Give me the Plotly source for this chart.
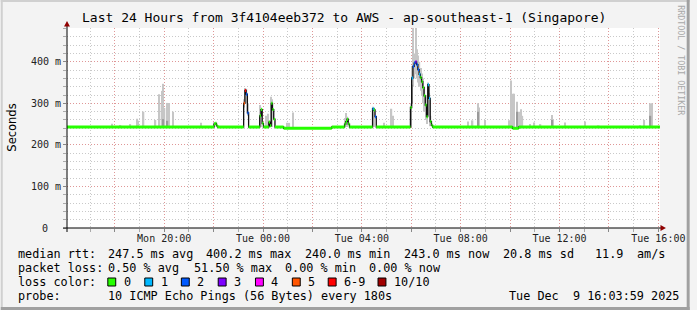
import plotly.graph_objects as go
from datetime import datetime, timedelta

# ---------------- data ----------------
# median RTT samples: time, value (ms), lost pings (of 10)
med_time = [
    "2025-12-08 16:04", "2025-12-08 22:01", "2025-12-08 22:04", "2025-12-08 22:07", "2025-12-08 22:10",
    "2025-12-08 23:13", "2025-12-08 23:16", "2025-12-08 23:19", "2025-12-08 23:22", "2025-12-08 23:25",
    "2025-12-08 23:52", "2025-12-08 23:55", "2025-12-08 23:58", "2025-12-09 00:01",
    "2025-12-09 00:14", "2025-12-09 00:17", "2025-12-09 00:20", "2025-12-09 00:23", "2025-12-09 00:26",
    "2025-12-09 00:29", "2025-12-09 00:50", "2025-12-09 02:47",
    "2025-12-09 03:18", "2025-12-09 03:21", "2025-12-09 03:24", "2025-12-09 03:27", "2025-12-09 03:30",
    "2025-12-09 04:26", "2025-12-09 04:29", "2025-12-09 04:32", "2025-12-09 04:35",
    "2025-12-09 05:58", "2025-12-09 06:01", "2025-12-09 06:04", "2025-12-09 06:07", "2025-12-09 06:10",
    "2025-12-09 06:13", "2025-12-09 06:16", "2025-12-09 06:19", "2025-12-09 06:22", "2025-12-09 06:25",
    "2025-12-09 06:28", "2025-12-09 06:31", "2025-12-09 06:34", "2025-12-09 06:37", "2025-12-09 06:40",
    "2025-12-09 06:43", "2025-12-09 06:46", "2025-12-09 06:49", "2025-12-09 06:52",
    "2025-12-09 10:06", "2025-12-09 10:21", "2025-12-09 16:01",
]
med_ms = [
    243, 250, 252, 246, 243,
    300, 331, 322, 277, 243,
    270, 285, 252, 243,
    255, 246, 300, 285, 262,
    243, 240, 243,
    250, 256, 262, 250, 243,
    287, 284, 268, 243,
    290, 361, 389, 397, 400,
    393, 381, 370, 362, 352,
    338, 318, 296, 268, 345,
    312, 256, 247, 243,
    240, 243, 243,
]
med_loss = [
    0, 0, 0, 0, 0,
    5, 7, 2, 2, 0,
    0, 0, 0, 0,
    0, 0, 0, 0, 0,
    0, 0, 0,
    0, 0, 0, 0, 0,
    1, 0, 2, 0,
    0, 1, 2, 2, 3,
    2, 2, 1, 0, 0,
    0, 0, 0, 0, 1,
    1, 0, 0, 0,
    0, 0, 0,
]

# smoke (spread of the individual pings): light and dark shades
smoke_time = [
    "2025-12-08 17:54", "2025-12-08 18:14", "2025-12-08 18:38", "2025-12-08 18:54", "2025-12-08 18:57",
    "2025-12-08 19:10", "2025-12-08 19:39", "2025-12-08 19:47", "2025-12-08 19:49", "2025-12-08 19:56",
    "2025-12-08 19:58", "2025-12-08 20:01", "2025-12-08 20:08", "2025-12-08 20:11", "2025-12-08 20:21",
    "2025-12-08 21:30", "2025-12-08 22:02",
    "2025-12-08 23:14", "2025-12-08 23:17", "2025-12-08 23:20", "2025-12-08 23:23",
    "2025-12-08 23:53", "2025-12-08 23:56", "2025-12-09 00:07", "2025-12-09 00:13", "2025-12-09 00:19",
    "2025-12-09 00:22", "2025-12-09 00:58", "2025-12-09 01:04", "2025-12-09 01:13",
    "2025-12-09 03:19", "2025-12-09 03:22", "2025-12-09 03:25", "2025-12-09 04:27", "2025-12-09 04:30",
    "2025-12-09 04:54", "2025-12-09 05:12", "2025-12-09 05:15",
    "2025-12-09 05:59", "2025-12-09 06:02", "2025-12-09 06:05", "2025-12-09 06:08", "2025-12-09 06:11",
    "2025-12-09 06:14", "2025-12-09 06:17", "2025-12-09 06:20", "2025-12-09 06:23", "2025-12-09 06:26",
    "2025-12-09 06:29", "2025-12-09 06:32", "2025-12-09 06:35", "2025-12-09 06:38", "2025-12-09 06:41",
    "2025-12-09 06:44", "2025-12-09 06:47",
    "2025-12-09 08:18", "2025-12-09 08:29", "2025-12-09 08:42", "2025-12-09 08:45", "2025-12-09 08:59",
    "2025-12-09 09:57", "2025-12-09 10:03", "2025-12-09 10:07", "2025-12-09 10:10", "2025-12-09 10:16",
    "2025-12-09 10:21", "2025-12-09 10:27", "2025-12-09 10:30", "2025-12-09 10:48", "2025-12-09 10:59",
    "2025-12-09 11:14", "2025-12-09 11:41", "2025-12-09 11:44", "2025-12-09 12:14", "2025-12-09 13:02",
    "2025-12-09 13:35", "2025-12-09 15:15", "2025-12-09 15:26", "2025-12-09 15:41", "2025-12-09 15:44",
]
smoke_lo = [
    243, 243, 243, 243, 243,
    243, 243, 243, 243, 243,
    243, 243, 243, 243, 243,
    243, 243,
    290, 300, 300, 270,
    243, 243, 243, 243, 243,
    243, 243, 243, 243,
    243, 243, 243, 243, 243,
    243, 243, 243,
    243, 300, 340, 360, 370,
    360, 350, 340, 330, 320,
    300, 280, 260, 250, 280,
    270, 245,
    243, 243, 243, 243, 243,
    243, 243, 243, 243, 243,
    243, 243, 243, 243, 243,
    243, 243, 243, 243, 243,
    243, 243, 243, 243, 243,
]
smoke_hi = [
    251, 248, 250, 263, 258,
    280, 260, 322, 300, 330,
    347, 289, 301, 301, 280,
    253, 255,
    310, 337, 335, 300,
    296, 290, 270, 275, 316,
    310, 253, 253, 278,
    265, 277, 268, 292, 290,
    253, 287, 270,
    300, 390, 500, 420, 500,
    430, 415, 400, 385, 372,
    360, 340, 320, 300, 350,
    325, 270,
    256, 259, 300, 290, 260,
    259, 355, 323, 323, 304,
    280, 286, 270, 250, 254,
    250, 272, 260, 254, 256,
    247, 247, 260, 300, 300,
]
core_time = ["2025-12-08 19:58", "2025-12-08 20:08", "2025-12-09 08:42", "2025-12-09 10:16",
             "2025-12-09 11:41", "2025-12-09 15:41", "2025-12-09 05:59", "2025-12-09 06:02"]
core_lo = [243, 243, 243, 243, 243, 243, 243, 300]
core_hi = [262, 258, 280, 280, 260, 270, 290, 345]

loss_labels = ["0", "1", "2", "3", "4", "5", "6-9", "10/10"]
loss_colors = ["#26ff00", "#00b8ff", "#0059ff", "#7e00ff", "#ff00ff", "#ff5500", "#ff0000", "#a10000"]

x_tick_times = ["2025-12-08 18:00", "2025-12-08 20:00", "2025-12-08 22:00", "2025-12-09 00:00",
                "2025-12-09 02:00", "2025-12-09 04:00", "2025-12-09 06:00", "2025-12-09 08:00",
                "2025-12-09 10:00", "2025-12-09 12:00", "2025-12-09 14:00", "2025-12-09 16:00"]
x_tick_labels = ["", "Mon 20:00", "", "Tue 00:00", "", "Tue 04:00", "", "Tue 08:00",
                 "", "Tue 12:00", "", "Tue 16:00"]
y_tick_vals = [0, 100, 200, 300, 400]
y_tick_labels = ["0", "100 m", "200 m", "300 m", "400 m"]

title_text = "Last 24 Hours from 3f4104eeb372 to AWS - ap-southeast-1 (Singapore)"
legend_rows = [
    [("median rtt:", 16), ("247.5 ms avg", 107), ("400.2 ms max", 207), ("240.0 ms min", 307),
     ("243.0 ms now", 407), ("20.8 ms sd", 507), ("11.9", 600), ("am/s", 643)],
    [("packet loss:", 16), ("0.50 % avg", 107), ("51.50 % max", 194), ("0.00 % min", 287),
     ("0.00 % now", 372)],
    [("loss color:", 16)],
    [("probe:", 16), ("10 ICMP Echo Pings (56 Bytes) every 180s", 107),
     ("Tue Dec  9 16:03:59 2025", 513)],
]

# ---------------- geometry ----------------
W, H = 697, 310
L, R, T, B = 67, 667, 28, 228
STEP = timedelta(minutes=3)


def px(x):
    return (x - L) / (R - L)


def py(y):
    return (B - y) / (B - T)


def bucket(n):
    return n if n <= 5 else (6 if n < 10 else 7)


fmt = "%Y-%m-%d %H:%M"
tt = [datetime.strptime(s, fmt) for s in med_time]

fig = go.Figure()

# smoke
fig.add_trace(go.Bar(x=smoke_time, base=smoke_lo, y=[h - l for h, l in zip(smoke_hi, smoke_lo)],
                     width=200000, marker=dict(color="#c6c6c6", line=dict(width=0)),
                     hoverinfo="skip", showlegend=False))
fig.add_trace(go.Bar(x=core_time, base=core_lo, y=[h - l for h, l in zip(core_hi, core_lo)],
                     width=200000, marker=dict(color="#9a9a9a", line=dict(width=0)),
                     hoverinfo="skip", showlegend=False))

# black connecting median line
fig.add_trace(go.Scatter(x=tt + [tt[-1] + STEP], y=med_ms + [med_ms[-1]], mode="lines",
                         line=dict(color="#101010", width=1.3, shape="hv"),
                         hoverinfo="skip", showlegend=False))

# coloured median segments by loss
segs = {b: ([], []) for b in range(len(loss_colors))}
for i, (t, v, n) in enumerate(zip(tt, med_ms, med_loss)):
    t1 = tt[i + 1] if i + 1 < len(tt) else t + STEP
    sx, sy = segs[bucket(n)]
    sx += [t, t1, None]
    sy += [v, v, None]
for b, (sx, sy) in segs.items():
    if sx:
        fig.add_trace(go.Scatter(x=sx, y=sy, mode="lines",
                                 line=dict(color=loss_colors[b], width=3),
                                 hoverinfo="skip", showlegend=False))

mono = "DejaVu Sans Mono"
grid_minor = "#c9c9c9"
grid_major = "rgba(240,110,110,0.55)"

fig.update_layout(
    width=W, height=H,
    margin=dict(l=L, r=W - R, t=T, b=H - B, pad=0),
    paper_bgcolor="#f3f3f3", plot_bgcolor="#ffffff",
    barmode="overlay", showlegend=False,
    font=dict(family=mono, size=10, color="#222"),
    xaxis=dict(type="date", range=["2025-12-08 16:04", "2025-12-09 16:04"],
               tickmode="array", tickvals=x_tick_times, ticktext=x_tick_labels,
               showgrid=True, gridcolor=grid_major, griddash="1px,2px", gridwidth=1,
               ticks="outside", ticklen=3, tickcolor="#888", showline=False, zeroline=False,
               ticklabelstandoff=-2,
               tickfont=dict(family=mono, size=10, color="#222"),
               minor=dict(tick0="2025-12-08 17:00", dtick=3600000, showgrid=True,
                          gridcolor=grid_minor, griddash="1px,2px", ticks="outside",
                          ticklen=3, tickcolor="#aaa")),
    yaxis=dict(range=[0, 481.3], tickmode="array", tickvals=y_tick_vals[1:],
               ticktext=y_tick_labels[1:],
               showgrid=True, gridcolor=grid_major, griddash="1px,2px", gridwidth=1,
               ticks="outside", ticklen=3, tickcolor="#888", showline=False, zeroline=False,
               tickfont=dict(family=mono, size=10, color="#222"),
               minor=dict(tick0=0, dtick=20, showgrid=True, gridcolor=grid_minor,
                          griddash="1px,2px", ticks="outside", ticklen=3, tickcolor="#aaa")),
)

shapes = []
# axes with arrows
shapes.append(dict(type="line", xref="paper", yref="paper", x0=px(63), x1=px(670), y0=0, y1=0,
                   line=dict(color="#000", width=1), layer="above"))
shapes.append(dict(type="line", xref="paper", yref="paper", x0=0, x1=0, y0=py(232), y1=py(24),
                   line=dict(color="#000", width=1), layer="above"))
shapes.append(dict(type="path", xref="paper", yref="paper", layer="above",
                   path=f"M {px(673)} {py(228)} L {px(667.5)} {py(225)} L {px(667.5)} {py(231)} Z",
                   fillcolor="#900000", line=dict(width=0)))
shapes.append(dict(type="path", xref="paper", yref="paper", layer="above",
                   path=f"M {px(67)} {py(21)} L {px(64)} {py(26.5)} L {px(70)} {py(26.5)} Z",
                   fillcolor="#900000", line=dict(width=0)))
# frame of the image
shapes.append(dict(type="rect", xref="paper", yref="paper", x0=px(0), x1=px(2), y0=py(0), y1=py(H),
                   fillcolor="#d0d0d0", line=dict(width=0), layer="above"))
shapes.append(dict(type="rect", xref="paper", yref="paper", x0=px(0), x1=px(W), y0=py(0), y1=py(2),
                   fillcolor="#d0d0d0", line=dict(width=0), layer="above"))
shapes.append(dict(type="rect", xref="paper", yref="paper", x0=px(W - 3), x1=px(W), y0=py(0), y1=py(H),
                   fillcolor="#a0a0a0", line=dict(width=0), layer="above"))
shapes.append(dict(type="rect", xref="paper", yref="paper", x0=px(0), x1=px(W), y0=py(H - 3), y1=py(H),
                   fillcolor="#a0a0a0", line=dict(width=0), layer="above"))

ann = []
ann.append(dict(text=title_text, x=px(347.5), y=py(18), xref="paper", yref="paper",
                xanchor="center", yanchor="middle", showarrow=False,
                font=dict(family=mono, size=13, color="#000")))
ann.append(dict(text="Seconds", x=px(11), y=py(128), xref="paper", yref="paper",
                xanchor="center", yanchor="middle", showarrow=False, textangle=-90,
                font=dict(family="DejaVu Sans", size=11.5, color="#000")))
ann.append(dict(text="RRDTOOL / TOBI OETIKER", x=px(688), y=py(60), xref="paper", yref="paper",
                xanchor="center", yanchor="middle", showarrow=False, textangle=90,
                font=dict(family=mono, size=8.3, color="#a8a8a8")))
# zero label of the y axis (rrdtool pads it with the empty unit prefix)
ann.append(dict(text=y_tick_labels[0], x=px(45), y=y_tick_vals[0], xref="paper", yref="y",
                xanchor="center", yanchor="middle", showarrow=False, borderpad=0,
                font=dict(family=mono, size=10, color="#222")))

row_y = [254, 268, 282, 296]
for r, row in enumerate(legend_rows):
    for txt, xpos in row:
        ann.append(dict(text=txt.replace(" ", "&nbsp;"), x=px(xpos), y=py(row_y[r]),
                        xref="paper", yref="paper", xanchor="left", yanchor="middle",
                        showarrow=False, borderpad=0,
                        font=dict(family=mono, size=11.8, color="#000")))

box_px = [108.3, 145.7, 182.7, 220, 257.7, 295, 331.3, 381.7]
for lab, col, bx in zip(loss_labels, loss_colors, box_px):
    shapes.append(dict(type="rect", xref="paper", yref="paper", x0=px(bx), x1=px(bx + 8),
                       y0=py(286), y1=py(278), fillcolor=col, line=dict(color="#000", width=1),
                       layer="above"))
    ann.append(dict(text=lab, x=px(bx + 15), y=py(282), xref="paper", yref="paper",
                    xanchor="left", yanchor="middle", showarrow=False, borderpad=0,
                    font=dict(family=mono, size=11.8, color="#000")))

fig.update_layout(shapes=shapes, annotations=ann)
fig.write_html("out.html")
